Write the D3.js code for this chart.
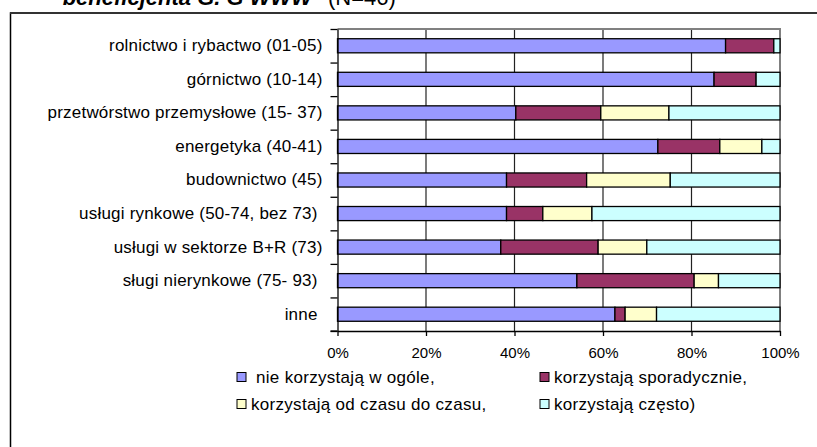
<!DOCTYPE html>
<html>
<head>
<meta charset="utf-8">
<script src="https://cdn.jsdelivr.net/npm/d3@7"></script>
<style>
  body { margin: 0; background: #fff; }
  svg { display: block; font-family: "Liberation Sans", Arial, sans-serif; }
</style>
</head>
<body>
<svg id="chart" width="817" height="447"></svg>
<script>
// categories (top to bottom)
const categories = [
    "rolnictwo i rybactwo (01-05)",
    "górnictwo (10-14)",
    "przetwórstwo przemysłowe (15- 37)",
    "energetyka (40-41)",
    "budownictwo (45)",
    "usługi rynkowe (50-74, bez 73) ",
    "usługi w sektorze B+R (73)",
    "sługi nierynkowe (75- 93) ",
    "inne "
];

// series values, % of row
const nieKorzystaja   = [87.7, 85.1, 40.3, 72.4, 38.2, 38.2, 36.9, 54.1, 62.7];
const sporadycznie    = [10.9,  9.5, 19.2, 14.0, 18.1,  8.2, 22.0, 26.5,  2.3];
const odCzasuDoCzasu  = [ 0.0,  0.0, 15.4,  9.5, 18.9, 11.1, 11.0,  5.5,  7.1];
const czesto          = [ 1.4,  5.4, 25.1,  4.1, 24.8, 42.5, 30.1, 13.9, 27.9];

const seriesNames = [
    " nie korzystają w ogóle,",
    "korzystają sporadycznie,",
    "korzystają od czasu do czasu,",
    "korzystają często)"
];
const seriesColors = ["#9999FF", "#993366", "#FFFFCC", "#CCFFFF"];

const xTicks = [0, 20, 40, 60, 80, 100];

const plot = { left: 337.5, right: 780, top: 29, bottom: 331 };

const svg = d3.select("#chart");

// title (cut off at top in the original)
svg.append("text")
    .attr("x", 312)
    .attr("y", 5)
    .attr("text-anchor", "end")
    .style("font-size", "22px")
    .style("font-weight", "bold")
    .style("font-style", "italic")
    .text("beneficjenta G. G WWW");
svg.append("text")
    .attr("x", 328)
    .attr("y", 5)
    .style("font-size", "22px")
    .text("(N=46)");

// outer chart frame
svg.append("rect")
    .attr("x", 10.5)
    .attr("y", 13)
    .attr("width", 1000)
    .attr("height", 600)
    .attr("fill", "none")
    .attr("stroke", "#000")
    .attr("stroke-width", 1.5);
svg.append("line")
    .attr("x1", 10).attr("x2", 817)
    .attr("y1", 13).attr("y2", 13)
    .attr("stroke", "#333")
    .attr("stroke-width", 2);

const x = d3.scaleLinear()
    .domain([0, 100])
    .range([plot.left, plot.right]);

const y = d3.scaleBand()
    .domain(categories)
    .range([plot.top, plot.bottom])
    .paddingInner(0.58)
    .paddingOuter(0.29);

// gridlines
svg.append("g")
    .selectAll("line")
    .data(xTicks.filter(d => d > 0 && d < 100))
    .enter()
    .append("line")
        .attr("x1", d => x(d)).attr("x2", d => x(d))
        .attr("y1", plot.top).attr("y2", plot.bottom)
        .attr("stroke", "#222")
        .attr("stroke-width", 1.2);

// plot border top / right
svg.append("path")
    .attr("d", "M" + plot.left + "," + plot.top + "H" + plot.right + "V" + plot.bottom)
    .attr("fill", "none")
    .attr("stroke", "#808080")
    .attr("stroke-width", 2);

// stacked bars
const rows = categories.map((c, i) => ({
    cat: c,
    s0: nieKorzystaja[i],
    s1: sporadycznie[i],
    s2: odCzasuDoCzasu[i],
    s3: czesto[i]
}));
const stacked = d3.stack().keys(["s0", "s1", "s2", "s3"])(rows);

svg.append("g")
    .selectAll("g")
    .data(stacked)
    .enter()
    .append("g")
        .attr("fill", (d, i) => seriesColors[i])
    .selectAll("rect")
    .data(d => d.filter(v => v[1] - v[0] > 0))
    .enter()
    .append("rect")
        .attr("x", d => x(d[0]))
        .attr("y", d => y(d.data.cat))
        .attr("width", d => x(d[1]) - x(d[0]))
        .attr("height", y.bandwidth())
        .attr("stroke", "#000")
        .attr("stroke-width", 1.3);

// y axis: ticks at band boundaries
const yEdge = d3.scaleLinear()
    .domain([0, categories.length])
    .range([plot.top, plot.bottom]);

svg.append("g")
    .attr("transform", "translate(" + plot.left + ",0)")
    .call(
        d3.axisLeft(yEdge)
            .tickValues(d3.range(categories.length + 1))
            .tickSize(7)
            .tickSizeOuter(0)
            .tickFormat("")
    )
    .call(g => g.selectAll("line, path").attr("stroke", "#000").attr("stroke-width", 1.3));

// category labels
svg.append("g")
    .attr("transform", "translate(" + plot.left + ",0)")
    .call(d3.axisLeft(y).tickSize(0).tickPadding(15))
    .call(g => g.select(".domain").remove())
    .call(g => g.selectAll("text")
        .attr("fill", "#000")
        .style("font-size", "17px")
        .style("letter-spacing", "0.2px")
        .style("font-family", "'Liberation Sans', Arial, sans-serif")
        .style("white-space", "pre"));

// x axis
svg.append("g")
    .attr("transform", "translate(0," + plot.bottom + ")")
    .call(
        d3.axisBottom(x)
            .tickValues(xTicks)
            .tickSize(5)
            .tickSizeOuter(0)
            .tickPadding(11)
            .tickFormat(d => d + "%")
    )
    .call(g => g.selectAll("line, path").attr("stroke", "#000").attr("stroke-width", 1.3))
    .call(g => g.selectAll("text")
        .attr("fill", "#000")
        .style("font-size", "15px")
        .style("font-family", "'Liberation Sans', Arial, sans-serif"));

// extend x axis line left to the y axis tick
svg.append("line")
    .attr("x1", plot.left - 7).attr("x2", plot.left)
    .attr("y1", plot.bottom).attr("y2", plot.bottom)
    .attr("stroke", "#000")
    .attr("stroke-width", 1.3);

// legend
const legendPos = [
    { x: 237, y: 377 },
    { x: 540, y: 377 },
    { x: 237, y: 404 },
    { x: 540, y: 404 }
];
const legend = svg.append("g")
    .selectAll("g")
    .data(seriesNames)
    .enter()
    .append("g")
        .attr("transform", (d, i) => "translate(" + legendPos[i].x + "," + legendPos[i].y + ")");

legend.append("rect")
    .attr("x", 0)
    .attr("y", -4.5)
    .attr("width", 9)
    .attr("height", 9)
    .attr("fill", (d, i) => seriesColors[i])
    .attr("stroke", "#000")
    .attr("stroke-width", 1);

legend.append("text")
    .attr("x", 14)
    .attr("dy", "0.35em")
    .style("font-size", "17px")
    .style("letter-spacing", "0.3px")
    .style("white-space", "pre")
    .text(d => d);
</script>
</body>
</html>
